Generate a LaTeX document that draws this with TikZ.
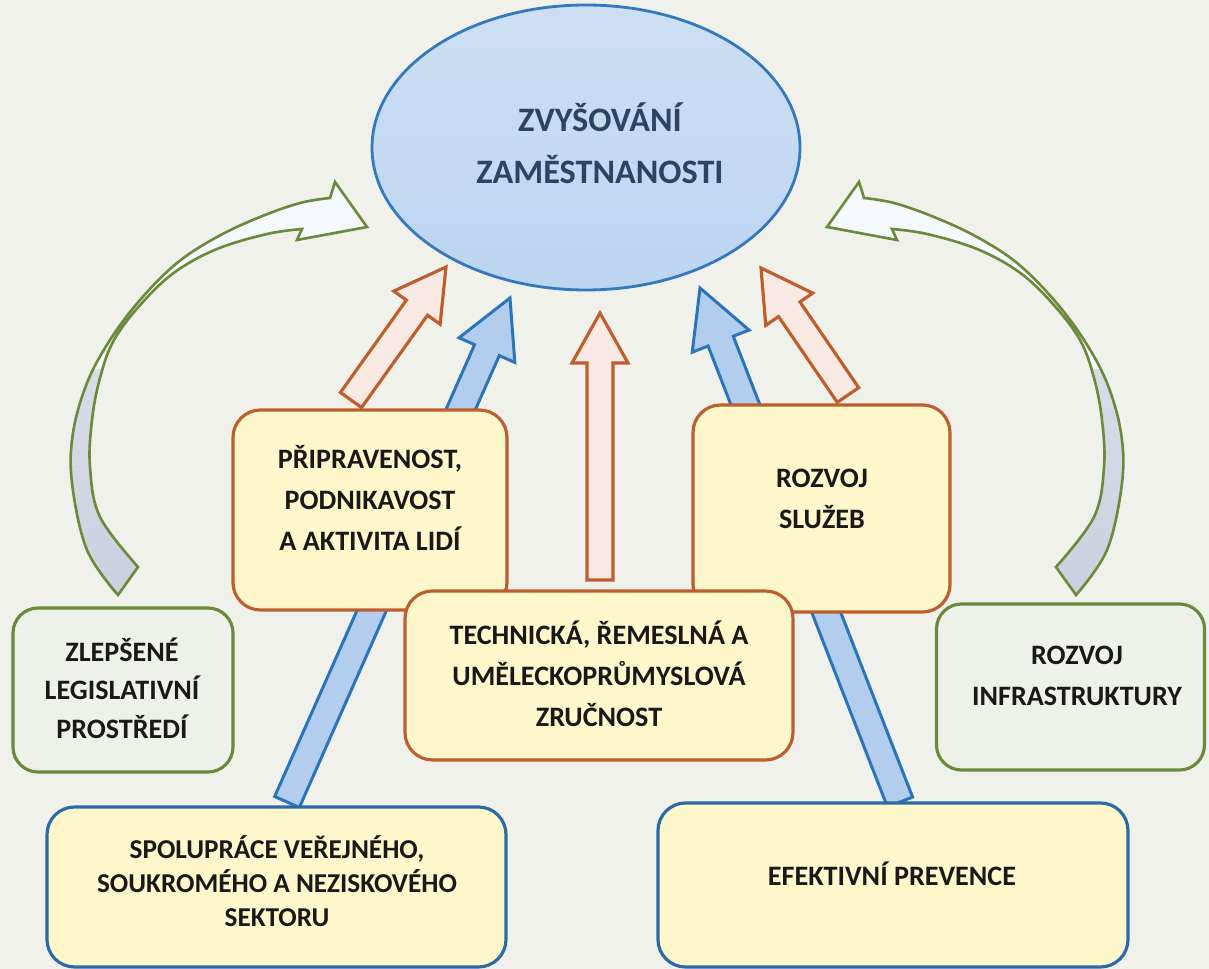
\documentclass[tikz,border=0pt]{standalone}
\usepackage{fontspec}
\setmainfont{Carlito}
\usepackage{tikz}
\usetikzlibrary{calc, shapes, positioning}

\definecolor{paper}{HTML}{F1F1EC}
\definecolor{ovalblue}{HTML}{BCD5F0}
\definecolor{ovalline}{HTML}{3479BD}
\definecolor{titleblue}{HTML}{2A4562}
\definecolor{boxyellow}{HTML}{FDF7CB}
\definecolor{rustline}{HTML}{BD5E2E}
\definecolor{rustfill}{HTML}{F8E9E3}
\definecolor{oliveline}{HTML}{6C8A3C}
\definecolor{olivefill}{HTML}{EDF1EA}
\definecolor{navyline}{HTML}{2C6AA5}
\definecolor{arrowblue}{HTML}{B3CDEE}
\definecolor{arrowline}{HTML}{2C74BA}
\definecolor{ribbongrey}{HTML}{C9D1DF}

\tikzstyle{goal} = [ellipse, draw=ovalline, line width=1.6pt, top color=ovalblue!75!white, bottom color=ovalblue, minimum width=8.56cm, minimum height=5.7cm, inner sep=0pt]
\tikzstyle{orangebox} = [rectangle, draw=rustline, line width=1.8pt, fill=boxyellow, rounded corners=5.5mm]
\tikzstyle{greenbox} = [rectangle, draw=oliveline, line width=1.8pt, fill=olivefill, rounded corners=5mm]
\tikzstyle{bluebox} = [rectangle, draw=navyline, line width=1.8pt, fill=boxyellow, rounded corners=5.5mm]
\tikzstyle{boxtext} = [align=center, font=\bfseries\fontsize{16pt}{23.5pt}\selectfont, text=black!90]
\tikzstyle{rustarrow} = [draw=rustline, line width=1.8pt, fill=rustfill, line join=miter]
\tikzstyle{bluearrow} = [draw=arrowline, line width=1.7pt, fill=arrowblue, line join=miter]
\tikzstyle{ribbon} = [draw=oliveline, line width=1.5pt, line join=miter]

% block arrow: style, tail, tip, half shaft, half head, head length
\newcommand{\blockarrow}[6]{
    \coordinate (hb) at ($(#3)!#6!(#2)$);
    \draw[#1] ($(#2)!#4!90:(#3)$) -- ($(hb)!#4!-90:(#2)$) -- ($(hb)!#5!-90:(#2)$) -- (#3)
        -- ($(hb)!#5!90:(#2)$) -- ($(hb)!#4!90:(#2)$) -- ($(#2)!#4!-90:(#3)$) -- cycle;
}

% curved arrow on the left, mirrored for the right one
\newcommand{\ribbonpath}{
    plot[smooth, tension=0.6] coordinates {(2.36,-11.90) (1.74,-11.00) (1.44,-9.66) (1.46,-8.66) (1.74,-7.66) (2.20,-6.80) (2.80,-6.00) (3.54,-5.26) (4.34,-4.74) (5.20,-4.34) (6.00,-4.06) (6.60,-3.96)}
    -- (6.70,-3.64) -- (7.34,-4.54) -- (5.94,-4.80) -- (6.04,-4.58)
    -- plot[smooth, tension=0.6] coordinates {(6.04,-4.58) (5.34,-4.68) (4.34,-4.98) (3.50,-5.44) (2.84,-6.06) (2.28,-6.80) (2.00,-7.56) (1.84,-8.40) (1.80,-9.34) (2.00,-10.34) (2.76,-11.34)}
    -- cycle
}

\begin{document}
\begin{tikzpicture}
        \useasboundingbox (0,0) rectangle (24.18,-19.38);
        \fill[paper] (0,0) rectangle (24.18,-19.38);

        % curved side arrows
        \fill[white!85!ovalblue] \ribbonpath;
        \begin{scope}
            \clip (0,-7.4) rectangle (8,-12.5);
            \shade[top color=ribbongrey!50!white, bottom color=ribbongrey] \ribbonpath;
        \end{scope}
        \draw[ribbon] \ribbonpath;

        \begin{scope}[xshift=23.88cm, xscale=-1]
            \fill[white!85!ovalblue] \ribbonpath;
            \begin{scope}
                \clip (0,-7.4) rectangle (8,-12.5);
                \shade[top color=ribbongrey!50!white, bottom color=ribbongrey] \ribbonpath;
            \end{scope}
            \draw[ribbon] \ribbonpath;
        \end{scope}

        % goal
        \node[goal] at (11.72, -2.95) (Goal) {};
        \node[font=\bfseries\fontsize{19.5pt}{29.5pt}\selectfont, text=titleblue, align=center] at (12.00, -2.86) (GoalText) {ZVYŠOVÁNÍ\\ZAMĚSTNANOSTI};

        % arrow ends
        \coordinate (ReadyOut) at (7.02, -8.00);
        \coordinate (ReadyIn) at (8.92, -5.34);
        \coordinate (CraftOut) at (12.00, -11.60);
        \coordinate (CraftIn) at (12.00, -6.26);
        \coordinate (ServicesOut) at (16.96, -7.90);
        \coordinate (ServicesIn) at (15.22, -5.36);
        \coordinate (SectorsOut) at (5.74, -16.04);
        \coordinate (SectorsIn) at (10.20, -5.96);
        \coordinate (PreventionOut) at (18.00, -16.04);
        \coordinate (PreventionIn) at (14.00, -5.76);

        \blockarrow{rustarrow}{ReadyOut}{ReadyIn}{2.6mm}{5.7mm}{10mm}
        \blockarrow{rustarrow}{CraftOut}{CraftIn}{2.6mm}{5.6mm}{10mm}
        \blockarrow{rustarrow}{ServicesOut}{ServicesIn}{2.6mm}{5.7mm}{10mm}
        \blockarrow{bluearrow}{SectorsOut}{SectorsIn}{2.7mm}{6.1mm}{11.4mm}
        \blockarrow{bluearrow}{PreventionOut}{PreventionIn}{2.7mm}{6.1mm}{11.4mm}

        % middle row
        \node[orangebox, minimum width=5.48cm, minimum height=4.0cm] at (7.40, -10.20) (Ready) {};
        \node[boxtext] at (7.40, -9.96) (ReadyText) {PŘIPRAVENOST,\\PODNIKAVOST\\A AKTIVITA LIDÍ};
        \node[orangebox, minimum width=5.14cm, minimum height=4.14cm] at (16.43, -10.17) (Services) {};
        \node[boxtext] at (16.44, -9.98) (ServicesText) {ROZVOJ\\SLUŽEB};
        \node[orangebox, minimum width=7.76cm, minimum height=3.38cm] at (11.98, -13.51) (Craft) {};
        \node[boxtext] at (11.98, -13.48) (CraftText) {TECHNICKÁ, ŘEMESLNÁ A\\UMĚLECKOPRŮMYSLOVÁ\\ZRUČNOST};

        % side boxes
        \node[greenbox, minimum width=4.40cm, minimum height=3.28cm] at (2.46, -13.80) (Law) {};
        \node[boxtext, font=\bfseries\fontsize{16pt}{22pt}\selectfont] at (2.44, -13.76) (LawText) {ZLEPŠENÉ\\LEGISLATIVNÍ\\PROSTŘEDÍ};
        \node[greenbox, minimum width=5.36cm, minimum height=3.32cm] at (21.41, -13.74) (Infra) {};
        \node[boxtext] at (21.54, -13.52) (InfraText) {ROZVOJ\\INFRASTRUKTURY};

        % bottom row
        \node[bluebox, minimum width=9.18cm, minimum height=3.20cm] at (5.53, -17.74) (Sectors) {};
        \node[boxtext, font=\bfseries\fontsize{15.5pt}{19.5pt}\selectfont] at (5.54, -17.62) (SectorsText) {SPOLUPRÁCE VEŘEJNÉHO,\\SOUKROMÉHO A NEZISKOVÉHO\\SEKTORU};
        \node[bluebox, minimum width=9.40cm, minimum height=3.28cm] at (17.86, -17.70) (Prevention) {};
        \node[boxtext] at (17.84, -17.48) (PreventionText) {EFEKTIVNÍ PREVENCE};

    \end{tikzpicture}
\end{document}
